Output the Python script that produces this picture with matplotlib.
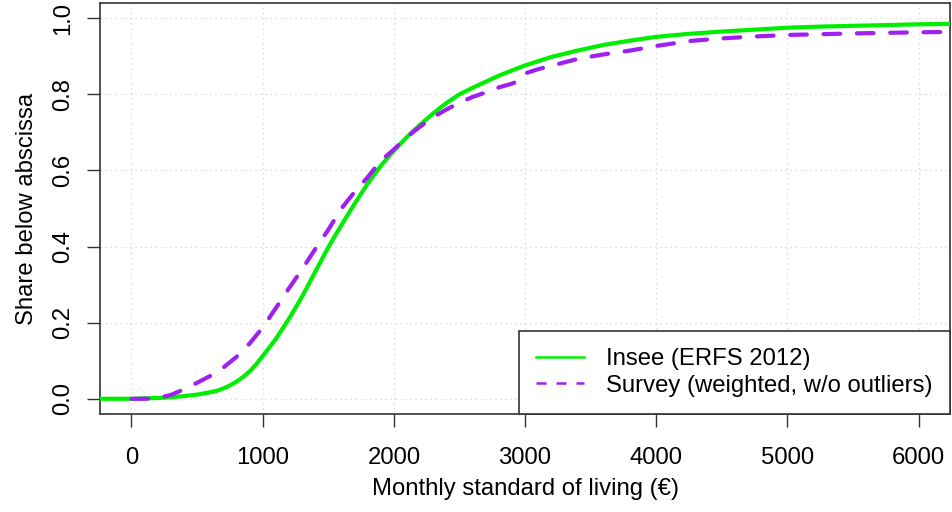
"""Cumulative distribution of monthly standard of living: Insee vs survey."""
import matplotlib
matplotlib.use("Agg")
import matplotlib.pyplot as plt
from matplotlib.lines import Line2D
from matplotlib.ticker import FixedLocator, FixedFormatter

plt.rcParams["font.family"] = ["Liberation Sans", "DejaVu Sans"]

# ── data ────────────────────────────────────────────────────────────────────
insee_x = [-240, 0, 200, 300, 400, 500, 550, 600, 650, 700, 750, 800, 850,
           900, 950, 1000, 1100, 1200, 1300, 1400, 1500, 1600, 1700, 1800,
           1900, 2000, 2100, 2200, 2300, 2400, 2500, 2600, 2800, 3000, 3200,
           3400, 3600, 3800, 4000, 4250, 4500, 4750, 5000, 5250, 5500, 5750,
           6000, 6240]
insee_y = [0.0, 0.0, 0.002, 0.004, 0.007, 0.011, 0.014, 0.017, 0.021, 0.027,
           0.035, 0.045, 0.057, 0.072, 0.09, 0.112, 0.157, 0.21, 0.268, 0.333,
           0.398, 0.456, 0.512, 0.565, 0.612, 0.652, 0.688, 0.72, 0.75, 0.777,
           0.80, 0.817, 0.849, 0.876, 0.898, 0.915, 0.93, 0.941, 0.951, 0.959,
           0.965, 0.970, 0.975, 0.978, 0.980, 0.982, 0.984, 0.985]

survey_x = [0, 100, 200, 300, 400, 500, 600, 700, 800, 900, 1000, 1100, 1200,
            1300, 1400, 1500, 1600, 1700, 1800, 1900, 2000, 2100, 2200, 2300,
            2400, 2500, 2600, 2700, 2800, 2900, 2950, 3000, 3100, 3200, 3400,
            3600, 3800, 4000, 4250, 4500, 4750, 5000, 5500, 6000, 6240]
survey_y = [0.0, 0.0, 0.002, 0.01, 0.025, 0.042, 0.06, 0.082, 0.11, 0.145,
            0.187, 0.238, 0.29, 0.34, 0.393, 0.444, 0.50, 0.543, 0.582, 0.625,
            0.655, 0.688, 0.715, 0.74, 0.76, 0.778, 0.793, 0.805, 0.818, 0.828,
            0.835, 0.855, 0.866, 0.875, 0.893, 0.905, 0.915, 0.927, 0.94, 0.947,
            0.952, 0.956, 0.960, 0.963, 0.964]

series_labels = ["Insee (ERFS 2012)", "Survey (weighted, w/o outliers)"]
x_ticks = [0, 1000, 2000, 3000, 4000, 5000, 6000]
y_ticks = [0.0, 0.2, 0.4, 0.6, 0.8, 1.0]
y_ticklabels = ["0.0", "0.2", "0.4", "0.6", "0.8", "1.0"]

GREEN = "#00EE00"
PURPLE = "#A020F0"
FS = 17.2

# ── plot ────────────────────────────────────────────────────────────────────
fig = plt.figure(figsize=(9.52, 5.12), dpi=100)
ax = fig.add_axes([100 / 952, 1 - 414 / 512, 850 / 952, 411 / 512])

for v in x_ticks:
    ax.axvline(v, color="#D3D3D3", lw=0.9, ls=(0, (1, 3)), zorder=0)
for v in y_ticks:
    ax.axhline(v, color="#D3D3D3", lw=0.9, ls=(0, (1, 3)), zorder=0)

ax.plot(insee_x, insee_y, color=GREEN, lw=3.0, solid_capstyle="round",
        solid_joinstyle="round", zorder=3)
ax.plot(survey_x, survey_y, color=PURPLE, lw=3.0, dashes=(4, 4),
        dash_capstyle="round", zorder=4)

ax.set_xlim(-240, 6240)
ax.set_ylim(-0.04, 1.04)

ax.xaxis.set_major_locator(FixedLocator(x_ticks))
ax.yaxis.set_major_locator(FixedLocator(y_ticks))
ax.yaxis.set_major_formatter(FixedFormatter(y_ticklabels))
ax.tick_params(axis="both", direction="out", length=9.4, width=1.0,
               labelsize=FS, color="#333333")
ax.tick_params(axis="x", pad=14)
ax.tick_params(axis="y", pad=9)
for lab in ax.get_yticklabels():
    lab.set_rotation(90)
    lab.set_va("center")

for sp in ax.spines.values():
    sp.set_color("#333333")
    sp.set_linewidth(1.2)

ax.set_xlabel("Monthly standard of living (€)", fontsize=FS)
ax.set_ylabel("Share below abscissa", fontsize=FS)
ax.xaxis.set_label_coords(0.501, -0.155)
ax.yaxis.set_label_coords(-0.073, 0.5)

handles = [Line2D([], [], color=GREEN, lw=1.8),
           Line2D([], [], color=PURPLE, lw=1.8, dashes=(4, 4))]
leg = ax.legend(handles, series_labels, loc="lower right", fontsize=FS,
                borderaxespad=0, frameon=True, fancybox=False, framealpha=1,
                edgecolor="#333333", borderpad=0.72, handlelength=2.0,
                handletextpad=0.95, labelspacing=0.2)
leg.get_frame().set_linewidth(1.2)
leg.set_zorder(5)

fig.savefig("out.png", dpi=100)
